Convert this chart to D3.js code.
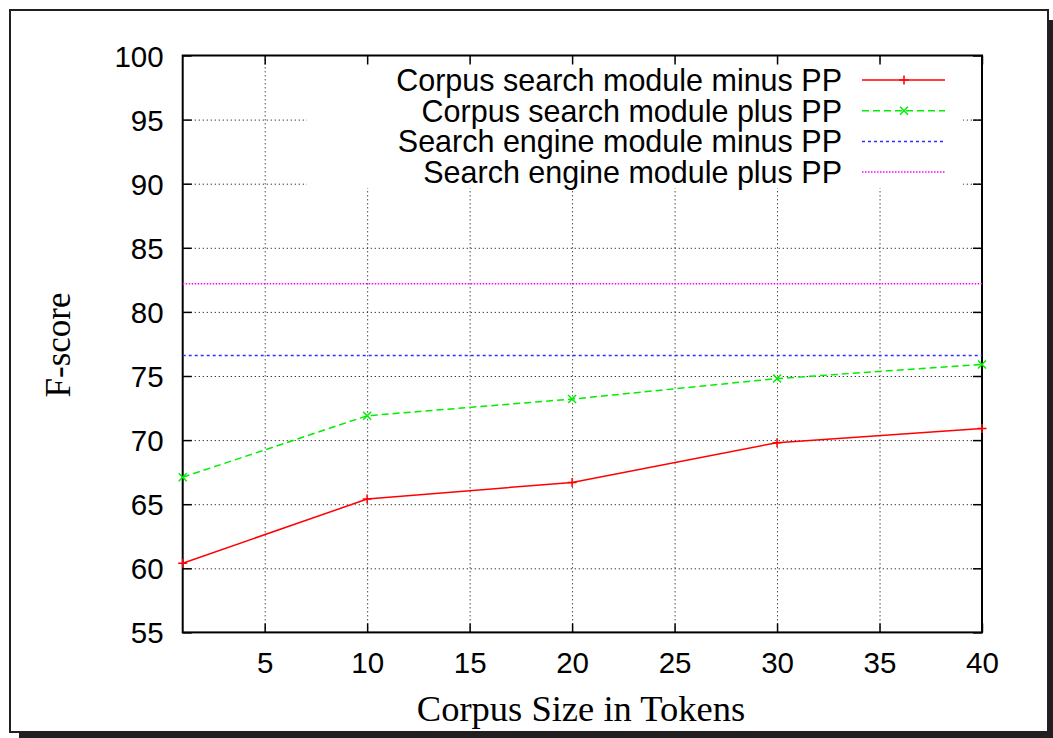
<!DOCTYPE html>
<html>
<head>
<meta charset="utf-8">
<script src="https://cdn.jsdelivr.net/npm/d3@7"></script>
<style>
body { margin: 0; background: #fff; }
.grid line { stroke: #222; stroke-width: 1; stroke-dasharray: 1.2,2.8; }
.grid path { display: none; }
.ticks path { display: none; }
.ticks line { stroke: #000; stroke-width: 1.5; }
.ticks text { font-family: "Liberation Sans", Arial, sans-serif; font-size: 29.5px; fill: #000; }
</style>
</head>
<body>
<div id="chart-area"></div>
<script>
// data
var corpusSize = [1, 10, 20, 30, 40];
var corpusMinusPP = [60.4, 65.4, 66.7, 69.8, 70.9];
var corpusPlusPP = [67.1, 71.9, 73.2, 74.8, 75.9];
var engineSize = [1, 40];
var engineMinusPP = [76.6, 76.6];
var enginePlusPP = [82.2, 82.2];
var xTicks = [5, 10, 15, 20, 25, 30, 35, 40];
var yTicks = [55, 60, 65, 70, 75, 80, 85, 90, 95, 100];
var seriesNames = ["Corpus search module minus PP", "Corpus search module plus PP",
	"Search engine module minus PP", "Search engine module plus PP"];

var series = [
	{name: seriesNames[0], xs: corpusSize, ys: corpusMinusPP, color: "#ff0000", dash: null, marker: "plus"},
	{name: seriesNames[1], xs: corpusSize, ys: corpusPlusPP, color: "#00ee00", dash: "7,4", marker: "cross"},
	{name: seriesNames[2], xs: engineSize, ys: engineMinusPP, color: "#3030ff", dash: "3,3", marker: null},
	{name: seriesNames[3], xs: engineSize, ys: enginePlusPP, color: "#ff00ff", dash: "1.5,1.5", marker: null}
];

var margin = {top: 55.5, left: 182.7};
var width = 799.3;
var height = 576.9;

var svg = d3.select("#chart-area").append("svg")
	.attr("width", 1053)
	.attr("height", 738);

// page frame with shadow
svg.append("rect").attr("x", 1047).attr("y", 20).attr("width", 6).attr("height", 718).attr("fill", "#231f20");
svg.append("rect").attr("x", 19).attr("y", 732).attr("width", 1034).attr("height", 6).attr("fill", "#231f20");
svg.append("rect").attr("x", 10).attr("y", 10).attr("width", 1038).attr("height", 722)
	.attr("fill", "#fff").attr("stroke", "#231f20").attr("stroke-width", 2);

var group = svg.append("g")
	.attr("transform", "translate(" + margin.left + "," + margin.top + ")");

var x = d3.scaleLinear().domain([1, 40]).range([0, width]);
var y = d3.scaleLinear().domain([55, 100]).range([height, 0]);

// grid
group.append("g").attr("class", "grid")
	.call(d3.axisLeft(y).tickValues(yTicks.slice(1, -1)).tickSize(-width).tickFormat(""));
group.append("g").attr("class", "grid")
	.attr("transform", "translate(0," + height + ")")
	.call(d3.axisBottom(x).tickValues(xTicks.slice(0, -1)).tickSize(-height).tickFormat(""));

// legend background hides the grid
group.append("rect")
	.attr("x", 307 - margin.left).attr("y", 63 - margin.top)
	.attr("width", 656).attr("height", 125)
	.attr("fill", "#fff");

// ticks on all four sides, pointing in
group.append("g").attr("class", "ticks")
	.call(d3.axisLeft(y).tickValues(yTicks).tickSizeInner(-9).tickPadding(19));
group.append("g").attr("class", "ticks")
	.attr("transform", "translate(" + width + ",0)")
	.call(d3.axisRight(y).tickValues(yTicks).tickSizeInner(-9).tickFormat(""));
group.append("g").attr("class", "ticks")
	.attr("transform", "translate(0," + height + ")")
	.call(d3.axisBottom(x).tickValues(xTicks).tickSizeInner(-9).tickPadding(30.5));
group.append("g").attr("class", "ticks")
	.call(d3.axisTop(x).tickValues(xTicks).tickSizeInner(-9).tickFormat(""));

group.selectAll(".ticks .tick text")
	.attr("dy", null)
	.attr("dominant-baseline", "central");

group.append("rect")
	.attr("width", width).attr("height", height)
	.attr("fill", "none").attr("stroke", "#000").attr("stroke-width", 2);

var markerPath = {
	plus: "M-4.5,0H4.5M0,-4.5V4.5",
	cross: "M-4,-4L4,4M-4,4L4,-4"
};

var line = d3.line().x((d) => x(d[0])).y((d) => y(d[1]));

series.forEach((s) => {
	var pts = s.xs.map((v, i) => [v, s.ys[i]]);
	group.append("path")
		.datum(pts)
		.attr("d", line)
		.attr("fill", "none")
		.attr("stroke", s.color)
		.attr("stroke-width", 1.5)
		.attr("stroke-dasharray", s.dash);
	if (s.marker) {
		group.selectAll(null).data(pts).enter()
			.append("path")
			.attr("transform", (d) => "translate(" + x(d[0]) + "," + y(d[1]) + ")")
			.attr("d", markerPath[s.marker])
			.attr("stroke", s.color)
			.attr("stroke-width", 1.5);
	}
});

// legend
var legend = svg.append("g");
series.forEach((s, i) => {
	var ly = 80 + i * 30.7;
	legend.append("text")
		.attr("x", 842).attr("y", ly)
		.attr("text-anchor", "end")
		.attr("dominant-baseline", "central")
		.attr("font-family", "Liberation Sans, Arial, sans-serif")
		.attr("font-size", "30.5px")
		.text(s.name);
	legend.append("line")
		.attr("x1", 862).attr("x2", 945).attr("y1", ly).attr("y2", ly)
		.attr("stroke", s.color).attr("stroke-width", 1.5)
		.attr("stroke-dasharray", s.dash);
	if (s.marker) {
		legend.append("path")
			.attr("transform", "translate(904," + ly + ")")
			.attr("d", markerPath[s.marker])
			.attr("stroke", s.color).attr("stroke-width", 1.5);
	}
});

// axis labels
svg.append("text")
	.attr("x", 581).attr("y", 721)
	.attr("text-anchor", "middle")
	.attr("font-family", "Liberation Serif, Times New Roman, serif")
	.attr("font-size", "36.5px")
	.text("Corpus Size in Tokens");
svg.append("text")
	.attr("transform", "translate(70,345) rotate(-90)")
	.attr("text-anchor", "middle")
	.attr("font-family", "Liberation Serif, Times New Roman, serif")
	.attr("font-size", "35px")
	.text("F-score");
</script>
</body>
</html>
